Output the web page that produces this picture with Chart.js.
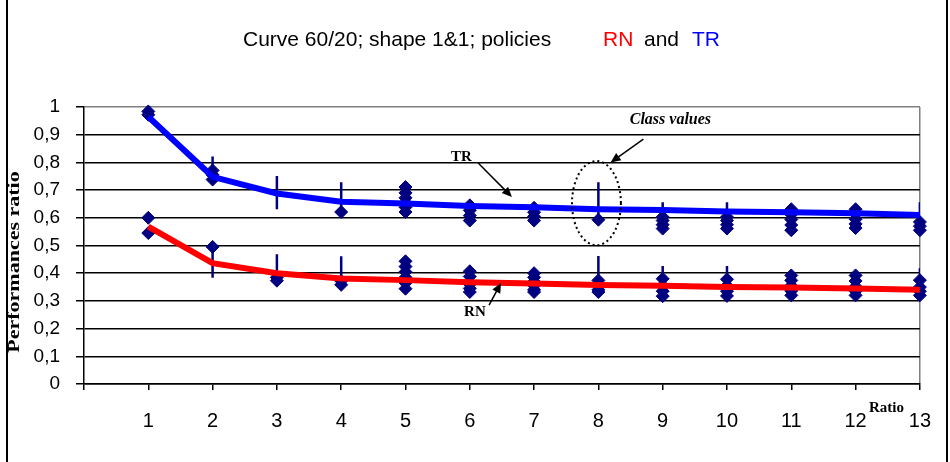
<!DOCTYPE html>
<html>
<head>
<meta charset="utf-8">
<script src="https://cdn.jsdelivr.net/npm/chart.js@4/dist/chart.umd.min.js"></script>
<style>
  html, body { margin: 0; padding: 0; background: #fff; }
  #wrap { width: 950px; height: 462px; position: relative; }
</style>
</head>
<body>
<div id="wrap"><canvas id="c" width="950" height="462"></canvas></div>
<script>
// Ratio values on the horizontal axis
const ratios = [1, 2, 3, 4, 5, 6, 7, 8, 9, 10, 11, 12, 13];

// Mean performance ratio curves for the two policies
const trCurve = [0.965, 0.748, 0.688, 0.658, 0.652, 0.643, 0.638, 0.631, 0.628, 0.623, 0.620, 0.616, 0.610];
const rnCurve = [0.568, 0.436, 0.400, 0.381, 0.375, 0.367, 0.363, 0.357, 0.355, 0.350, 0.348, 0.345, 0.340];

// Individual class values per ratio
const trClass = [
  [0.984, 0.972],
  [0.771, 0.755, 0.738],
  [],
  [0.621],
  [0.711, 0.690, 0.672, 0.655, 0.638, 0.621],
  [0.645, 0.627, 0.608, 0.590],
  [0.636, 0.620, 0.605, 0.590],
  [0.593],
  [0.603, 0.590, 0.575, 0.561],
  [0.603, 0.590, 0.575, 0.561],
  [0.631, 0.612, 0.594, 0.574, 0.555],
  [0.631, 0.613, 0.595, 0.578, 0.563],
  [0.585, 0.570, 0.555]
];
const rnClass = [
  [0.600, 0.545],
  [0.495],
  [0.385, 0.373],
  [0.372, 0.358],
  [0.443, 0.424, 0.405, 0.385, 0.365, 0.344],
  [0.407, 0.388, 0.360, 0.345, 0.332],
  [0.400, 0.385, 0.370, 0.355, 0.340, 0.332],
  [0.374, 0.355, 0.340, 0.332],
  [0.380, 0.355, 0.335, 0.317],
  [0.378, 0.355, 0.335, 0.318],
  [0.392, 0.374, 0.355, 0.336, 0.320],
  [0.392, 0.372, 0.352, 0.335, 0.320],
  [0.375, 0.350, 0.335, 0.320]
];

// Spread of class values (vertical bars), null where none is shown
const trRangeLow  = [null, 0.738, 0.631, 0.621, null, null, null, 0.593, 0.561, 0.561, null, null, 0.555];
const trRangeHigh = [null, 0.821, 0.751, 0.728, null, null, null, 0.728, 0.656, 0.656, null, null, 0.656];
const rnRangeLow  = [null, 0.384, 0.373, 0.358, null, null, null, 0.332, 0.317, 0.318, null, null, 0.320];
const rnRangeHigh = [null, 0.495, 0.468, 0.461, null, null, null, 0.462, 0.426, 0.426, null, null, 0.418];

// Tick labels
const xTickLabels = ['', '1', '2', '3', '4', '5', '6', '7', '8', '9', '10', '11', '12', '13'];
const yTickLabels = ['0', '0,1', '0,2', '0,3', '0,4', '0,5', '0,6', '0,7', '0,8', '0,9', '1'];

const NAVY = '#000080';

function classPoints(values) {
  const pts = [];
  ratios.forEach((r, i) => values[i].forEach(v => pts.push({ x: r, y: v })));
  return pts;
}
function rangeSegments(low, high) {
  const pts = [];
  ratios.forEach((r, i) => {
    if (low[i] === null) return;
    pts.push({ x: r, y: low[i] }, { x: r, y: high[i] }, { x: r, y: null });
  });
  return pts;
}
function curve(values) {
  return ratios.map((r, i) => ({ x: r, y: values[i] }));
}

function arrow(ctx, x1, y1, x2, y2) {
  const a = Math.atan2(y2 - y1, x2 - x1);
  const len = 10, half = 4.5;
  ctx.beginPath();
  ctx.moveTo(x1, y1);
  ctx.lineTo(x2 - Math.cos(a) * len * 0.8, y2 - Math.sin(a) * len * 0.8);
  ctx.stroke();
  ctx.beginPath();
  ctx.moveTo(x2, y2);
  ctx.lineTo(x2 - Math.cos(a) * len + Math.sin(a) * half, y2 - Math.sin(a) * len - Math.cos(a) * half);
  ctx.lineTo(x2 - Math.cos(a) * len - Math.sin(a) * half, y2 - Math.sin(a) * len + Math.cos(a) * half);
  ctx.closePath();
  ctx.fill();
}

// Title, axis caption, callouts and frame
const decorations = {
  id: 'decorations',
  afterDraw(chart) {
    const ctx = chart.ctx;
    const xs = chart.scales.x, ys = chart.scales.y;
    const px = v => xs.getPixelForValue(v);
    const py = v => ys.getPixelForValue(v);
    const area = chart.chartArea;
    ctx.save();

    // outer frame sides
    ctx.strokeStyle = '#000';
    ctx.lineWidth = 2;
    ctx.beginPath();
    ctx.moveTo(7, 0); ctx.lineTo(7, 462);
    ctx.moveTo(947, 0); ctx.lineTo(947, 462);
    ctx.stroke();

    // title in several colours
    ctx.font = '21px "Liberation Sans", Arial, sans-serif';
    ctx.textBaseline = 'alphabetic';
    ctx.textAlign = 'left';
    ctx.fillStyle = '#000';
    ctx.fillText('Curve 60/20; shape 1&1; policies', 243, 46);
    ctx.fillStyle = '#FF0000';
    ctx.fillText('RN', 603, 46);
    ctx.fillStyle = '#000';
    ctx.fillText('and', 644, 46);
    ctx.fillStyle = '#0000FF';
    ctx.fillText('TR', 692, 46);

    // vertical axis caption
    ctx.save();
    ctx.translate(15, 262);
    ctx.rotate(-Math.PI / 2);
    ctx.scale(1, 0.72);
    ctx.font = 'bold 22px "Liberation Serif", "Times New Roman", serif';
    ctx.textAlign = 'center';
    ctx.textBaseline = 'middle';
    ctx.fillStyle = '#000';
    ctx.fillText('Performances ratio', 0, 0);
    ctx.restore();

    // horizontal axis caption
    ctx.font = 'bold 15px "Liberation Serif", "Times New Roman", serif';
    ctx.textAlign = 'center';
    ctx.textBaseline = 'middle';
    ctx.fillStyle = '#000';
    ctx.fillText('Ratio', px(12.48), area.bottom + 24);

    // callouts
    ctx.strokeStyle = '#000';
    ctx.fillStyle = '#000';
    ctx.lineWidth = 1.5;
    ctx.font = 'bold 15px "Liberation Serif", "Times New Roman", serif';
    ctx.fillText('TR', px(5.87), py(0.82));
    arrow(ctx, px(6.13), py(0.798), px(6.656), py(0.675));
    ctx.fillText('RN', px(6.08), py(0.26));
    arrow(ctx, px(6.30), py(0.285), px(6.486), py(0.365));
    ctx.font = 'italic bold 16px "Liberation Serif", "Times New Roman", serif';
    ctx.fillText('Class values', px(9.12), py(0.953));
    arrow(ctx, px(8.70), py(0.884), px(8.19), py(0.80));

    // dotted ring around one class group
    const cx = px(7.97), cy = py(0.653);
    const rx = px(7.97 + 0.38) - cx, ry = cy - py(0.653 + 0.152);
    ctx.setLineDash([2, 3]);
    ctx.lineWidth = 2;
    ctx.beginPath();
    ctx.ellipse(cx, cy, rx, ry, 0, 0, Math.PI * 2);
    ctx.stroke();
    ctx.setLineDash([]);

    ctx.restore();
  }
};

new Chart(document.getElementById('c'), {
  type: 'scatter',
  data: {
    datasets: [
      {
        label: 'TR',
        data: curve(trCurve),
        showLine: true,
        borderColor: '#0000FF',
        backgroundColor: '#0000FF',
        borderWidth: 6,
        pointRadius: 0,
        order: 0
      },
      {
        label: 'RN',
        data: curve(rnCurve),
        showLine: true,
        borderColor: '#FF0000',
        backgroundColor: '#FF0000',
        borderWidth: 6,
        pointRadius: 0,
        order: 0
      },
      {
        label: 'TR class values',
        data: classPoints(trClass),
        pointStyle: 'rectRot',
        pointRadius: 6.5,
        backgroundColor: NAVY,
        borderColor: NAVY,
        borderWidth: 1,
        clip: false,
        order: 1
      },
      {
        label: 'RN class values',
        data: classPoints(rnClass),
        pointStyle: 'rectRot',
        pointRadius: 6.5,
        backgroundColor: NAVY,
        borderColor: NAVY,
        borderWidth: 1,
        clip: false,
        order: 1
      },
      {
        label: 'TR spread',
        data: rangeSegments(trRangeLow, trRangeHigh),
        showLine: true,
        spanGaps: false,
        borderColor: NAVY,
        borderWidth: 2.5,
        pointRadius: 0,
        order: 2
      },
      {
        label: 'RN spread',
        data: rangeSegments(rnRangeLow, rnRangeHigh),
        showLine: true,
        spanGaps: false,
        borderColor: NAVY,
        borderWidth: 2.5,
        pointRadius: 0,
        order: 2
      }
    ]
  },
  options: {
    responsive: false,
    animation: false,
    devicePixelRatio: 1,
    layout: { padding: { left: 0, top: 107, right: 26, bottom: 0 } },
    plugins: {
      legend: { display: false },
      tooltip: { enabled: false },
      title: { display: false }
    },
    scales: {
      x: {
        type: 'linear',
        min: 0,
        max: 13,
        afterFit: s => { s.height = 78; },
        afterBuildTicks: s => { s.ticks = xTickLabels.map((_, i) => ({ value: i })); },
        ticks: {
          autoSkip: false,
          maxRotation: 0,
          padding: 19,
          color: '#000',
          font: { family: '"Liberation Sans", Arial, sans-serif', size: 20 },
          callback: (v, i) => xTickLabels[i]
        },
        grid: {
          drawOnChartArea: true,
          color: c => (c.index === 13 ? '#808080' : 'rgba(0,0,0,0)'),
          lineWidth: 1.5,
          tickColor: '#000',
          tickLength: 6,
          tickWidth: 1.5
        },
        border: { color: '#000', width: 1.5 }
      },
      y: {
        min: 0,
        max: 1,
        afterFit: s => { s.width = 84; },
        afterBuildTicks: s => { s.ticks = yTickLabels.map((_, i) => ({ value: i / 10 })); },
        ticks: {
          padding: 16,
          color: '#000',
          font: { family: '"Liberation Sans", Arial, sans-serif', size: 19 },
          callback: (v, i) => yTickLabels[i]
        },
        grid: {
          color: c => (c.index === 10 ? '#808080' : '#000'),
          lineWidth: 1.5,
          tickColor: '#000',
          tickLength: 8,
          tickWidth: 1.5
        },
        border: { color: '#000', width: 1.5 }
      }
    }
  },
  plugins: [decorations]
});
</script>
</body>
</html>
